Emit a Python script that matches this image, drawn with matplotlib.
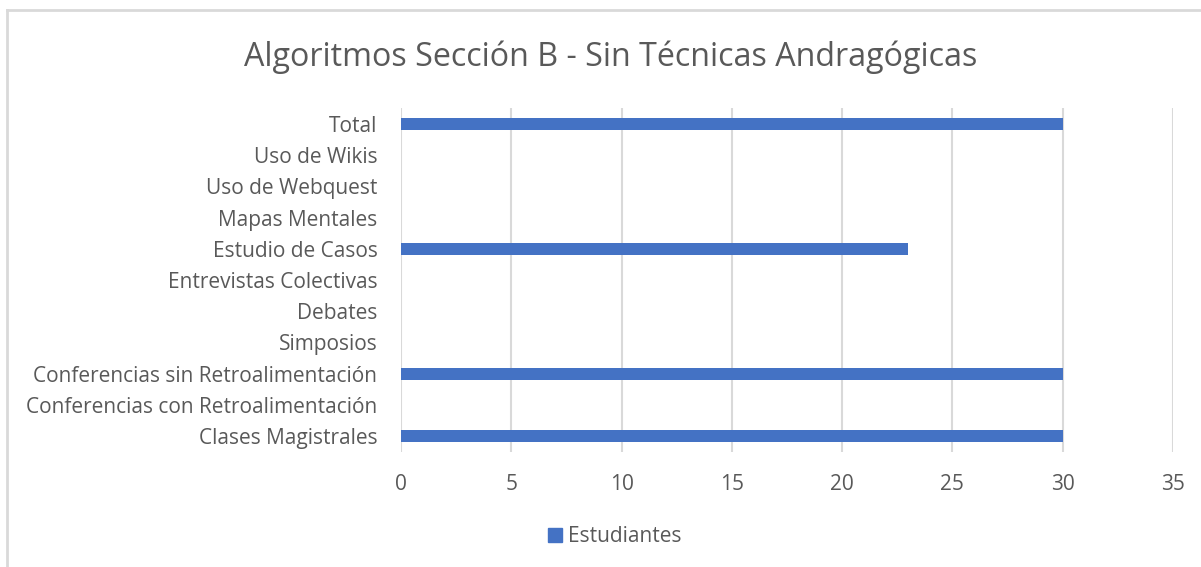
import matplotlib
matplotlib.use("Agg")
import matplotlib.pyplot as plt
from matplotlib.lines import Line2D

categories = ["Clases Magistrales", "Conferencias con Retroalimentación",
              "Conferencias sin Retroalimentación", "Simposios", "Debates",
              "Entrevistas Colectivas", "Estudio de Casos", "Mapas Mentales",
              "Uso de Webquest", "Uso de Wikis", "Total"]
estudiantes = [30, 0, 30, 0, 0, 0, 23, 0, 0, 0, 30]
xticks = [0, 5, 10, 15, 20, 25, 30, 35]
title = "Algoritmos Sección B - Sin Técnicas Andragógicas"
series_name = "Estudiantes"

plt.rcParams['font.family'] = ['Open Sans', 'DejaVu Sans']
txt = "#595959"
blue = "#4472C4"

W, H = 1201, 567
fig = plt.figure(figsize=(W/100, H/100), dpi=100)
ax = fig.add_axes([401/W, 1-451.6/H, 772/W, 343.2/H])

y = list(range(len(categories)))
ax.barh(y, estudiantes, height=0.38, color=blue, zorder=3, label=series_name)
ax.set_ylim(-0.5, len(categories)-0.5)
ax.set_xlim(0, 35)
ax.set_xticks(xticks)
ax.set_yticks(y)
ax.set_yticklabels(categories)
ax.grid(axis='x', color="#d9d9d9", linewidth=1.5, zorder=0)
for s in ax.spines.values():
    s.set_visible(False)
ax.tick_params(axis='both', length=0, labelsize=15, colors=txt)
ax.tick_params(axis='x', pad=16)
ax.tick_params(axis='y', pad=17)

fig.text(611/W, 1-57/H, title, ha='center', va='center', fontsize=23.2, color=txt)

leg = fig.legend(handles=[plt.Rectangle((0, 0), 1, 1, color=blue)], labels=[series_name],
                 loc='center', bbox_to_anchor=(615/W, 1-537/H), frameon=False,
                 fontsize=15, handlelength=0.65, handleheight=0.65, handletextpad=0.3,
                 labelcolor=txt)

# chart border
fig.add_artist(Line2D([7/W, 7/W], [0, 1-10/H], color="#d9d9d9", linewidth=2, transform=fig.transFigure))
fig.add_artist(Line2D([7/W, 1], [1-10/H, 1-10/H], color="#d9d9d9", linewidth=2, transform=fig.transFigure))

fig.savefig("out.png", dpi=100, facecolor="white")
